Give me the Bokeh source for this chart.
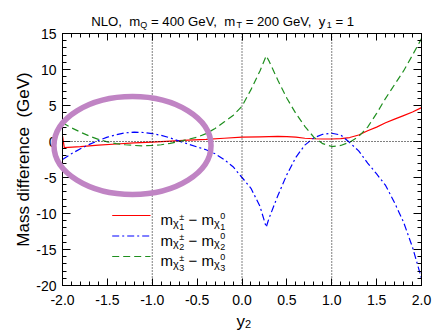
import numpy as np
from bokeh.plotting import figure
from bokeh.core.properties import value
from bokeh.models import (Range1d, SingleIntervalTicker, PrintfTickFormatter,
                          CustomJSTickFormatter, LinearAxis, Span)
from bokeh.embed import file_html
from bokeh.resources import INLINE

# ---------------- data ----------------
x_red = [-2.0, -1.98, -1.8, -1.6, -1.4, -1.2, -1.0, -0.8, -0.6, -0.4, -0.2, 0.0,
         0.2, 0.4, 0.5, 0.6, 0.7, 0.8, 0.9, 1.0, 1.1, 1.2, 1.3, 1.4, 1.5, 1.6,
         1.7, 1.8, 1.9, 2.0]
y_red = [0.8, -0.85, -0.7, -0.5, -0.35, -0.2, -0.08, 0.05, 0.18, 0.3, 0.45, 0.6,
         0.65, 0.7, 0.68, 0.6, 0.45, 0.38, 0.35, 0.35, 0.4, 0.55, 0.9, 1.5, 2.0, 2.6,
         3.1, 3.6, 4.1, 4.7]

x_blue = [-2.0, -1.9, -1.8, -1.7, -1.6, -1.5, -1.4, -1.3, -1.2, -1.1, -1.0, -0.9,
          -0.8, -0.7, -0.6, -0.5, -0.4, -0.3, -0.2, -0.1, 0.0, 0.1, 0.2, 0.27,
          0.3, 0.4, 0.5, 0.6, 0.7, 0.8, 0.9, 1.0, 1.1, 1.2, 1.3, 1.4, 1.5, 1.6,
          1.7, 1.8, 1.9, 2.0]
y_blue = [-2.5, -1.7, -1.0, -0.4, 0.15, 0.6, 0.95, 1.2, 1.3, 1.25, 1.1, 0.85,
          0.5, 0.05, -0.35, -0.75, -1.15, -1.7, -2.5, -3.5, -5.0, -6.5, -9.0, -11.9,
          -10.7, -7.5, -4.6, -2.2, -0.5, 0.5, 1.0, 1.15, 0.9, -0.15, -1.3, -3.0, -4.5, -6.1,
          -8.5, -11.2, -14.7, -19.0]

x_green = [-2.0, -1.9, -1.8, -1.7, -1.6, -1.5, -1.4, -1.3, -1.2, -1.1, -1.0, -0.9,
           -0.8, -0.7, -0.6, -0.5, -0.4, -0.3, -0.2, -0.1, 0.0, 0.1, 0.2, 0.27,
           0.3, 0.4, 0.5, 0.6, 0.7, 0.8, 0.9, 1.0, 1.1, 1.2, 1.3, 1.4, 1.5, 1.6,
           1.7, 1.8, 1.9, 2.0]
y_green = [2.6, 1.9, 1.3, 0.75, 0.3, -0.05, -0.3, -0.45, -0.55, -0.6, -0.55, -0.45,
           -0.25, 0.0, 0.3, 0.6, 1.1, 1.8, 2.7, 3.6, 4.9, 7.2, 9.8, 11.9,
           11.2, 8.5, 6.0, 3.9, 2.1, 0.6, -0.3, -0.7, -0.55, -0.1, 0.7, 2.0, 3.9, 6.0,
           7.9, 9.8, 12.0, 14.3]

ref_lines_x = [-1.0, 0.0, 1.0]
ref_lines_y = [0.0]

# highlight ellipse (annotation)
ell_x, ell_y, ell_w, ell_h = -1.22, -0.56, 1.75, 13.6

# ---------------- layout ----------------
W, H = 433, 332
ML, MR, MT, MB = 62, 12, 33, 47
X0, X1 = -2.0, 2.0
Y0, Y1 = -20.0, 15.0
FW, FH = W - ML - MR, H - MT - MB
FONT = "Liberation Sans"
NB = "\u00a0"


def px2x(px):
    return X0 + (px - ML) * (X1 - X0) / FW


def px2y(py):
    return Y1 - (py - MT) * (Y1 - Y0) / FH


p = figure(width=W, height=H, x_range=Range1d(X0, X1), y_range=Range1d(Y0, Y1),
           output_backend="svg", toolbar_location=None,
           min_border_left=ML, min_border_right=MR, min_border_top=MT,
           min_border_bottom=MB, x_axis_type=None, y_axis_type=None)
p.outline_line_color = "black"
p.outline_line_width = 1
p.grid.visible = False
p.background_fill_color = "white"
p.border_fill_color = "white"


def styled_axis(ticker, formatter, maj, mnr, labels=True):
    ax = LinearAxis(ticker=ticker, formatter=formatter)
    ax.major_tick_in = maj
    ax.major_tick_out = 0
    ax.minor_tick_in = mnr
    ax.minor_tick_out = 0
    ax.axis_line_color = "black"
    ax.major_tick_line_color = "black"
    ax.minor_tick_line_color = "black"
    ax.major_label_text_font = FONT
    ax.major_label_text_font_size = "14px"
    ax.major_label_text_color = "black"
    if not labels:
        ax.formatter = CustomJSTickFormatter(code="return ''")
        ax.major_label_standoff = 0
    return ax


xt = lambda: SingleIntervalTicker(interval=0.5, num_minor_ticks=5)
yt = lambda: SingleIntervalTicker(interval=5, num_minor_ticks=5)

bx = styled_axis(xt(), PrintfTickFormatter(format="%.1f"), 7, 4)
bx.major_label_standoff = 9
p.add_layout(bx, "below")
tx = styled_axis(xt(), PrintfTickFormatter(format="%.1f"), 7, 4, labels=False)
p.add_layout(tx, "above")

ly = styled_axis(yt(), PrintfTickFormatter(format="%d"), 8, 4)
ly.major_label_standoff = 6
p.add_layout(ly, "left")
ry = styled_axis(yt(), PrintfTickFormatter(format="%d"), 8, 4, labels=False)
p.add_layout(ry, "right")

for v in ref_lines_x:
    p.add_layout(Span(location=v, dimension="height", line_color="black",
                      line_dash="1 2", line_width=1))
for v in ref_lines_y:
    p.add_layout(Span(location=v, dimension="width", line_color="black",
                      line_dash="1 2", line_width=1))

RED, BLUE, GREEN = "#ff0000", "#0000ff", "#1f8f1f"
DASH_B, DASH_G = "7 3 2 3", "7 4"
p.line(x_red, y_red, line_color=RED, line_width=1.2)
p.line(x_blue, y_blue, line_color=BLUE, line_width=1.2, line_dash=DASH_B)
p.line(x_green, y_green, line_color=GREEN, line_width=1.2, line_dash=DASH_G)

p.ellipse(x=[ell_x], y=[ell_y], width=ell_w, height=ell_h, fill_color=None,
          line_color="#c084c4", line_width=5.5, level="overlay")

# ---------------- text helpers ----------------
WID = {' ': 278, NB: 278, ',': 278, '.': 278, '=': 584, 'N': 722, 'L': 556, 'O': 778,
       'm': 833, 'Q': 778, 'T': 611, 'G': 778, 'e': 556, 'V': 667, 'y': 500,
       '\u2212': 584, '\u00b1': 584, '\u03c7': 560, '(': 333, ')': 333}


def tw(s, size):
    return sum(WID.get(c, 556) for c in s) * size / 1000.0


def put(text, px, py, size, angle=0.0, align="left"):
    p.text(x=[px2x(px)], y=[px2y(py)], text=[text.replace(" ", NB)],
           text_font=value(FONT), text_font_size=value(f"{size}px"),
           text_color="black", text_baseline="alphabetic", text_align=align,
           angle=angle, level="overlay")


def run(pieces, px, py):
    for pc in pieces:
        if isinstance(pc, list):
            w = 0
            for (t, s, dy) in pc:
                put(t, px, py + dy, s)
                w = max(w, tw(t, s))
            px += w
        else:
            t, s, dy = pc
            put(t, px, py + dy, s)
            px += tw(t, s)
    return px


# title
TS, SS = 13.2, 9
run([("NLO,  m", TS, 0), ("Q", SS, 3), (" = 400 GeV,  m", TS, 0), ("T", SS, 3),
     (" = 200 GeV,  y", TS, 0), ("1", SS, 3), (" = 1", TS, 0)], 90.7, 21)

# axis titles
run([("y", 17, 0), ("2", 11, 2.5)], 236, 321)
put("Mass difference  (GeV)", 23, 159, 17, angle=np.pi / 2, align="center")

# legend
leg_colors = [RED, BLUE, GREEN]
leg_dash = ["solid", DASH_B, DASH_G]
leg_base = [219, 239.5, 260]
for i, (c, d, b) in enumerate(zip(leg_colors, leg_dash, leg_base)):
    n = str(i + 1)
    p.line([px2x(111.7), px2x(150)], [px2y(b - 4), px2y(b - 4)], line_color=c,
           line_width=1.2, line_dash=d)
    run([("m", 15, 0), ("\u03c7", 11, 3), [("\u00b1", 9, -3), (n, 9, 7)],
         (" \u2212 m", 15, 0), ("\u03c7", 11, 3), [("0", 9, -4), (n, 9, 7)]],
        160, b)

open("out.html", "w").write(file_html(p, INLINE))
